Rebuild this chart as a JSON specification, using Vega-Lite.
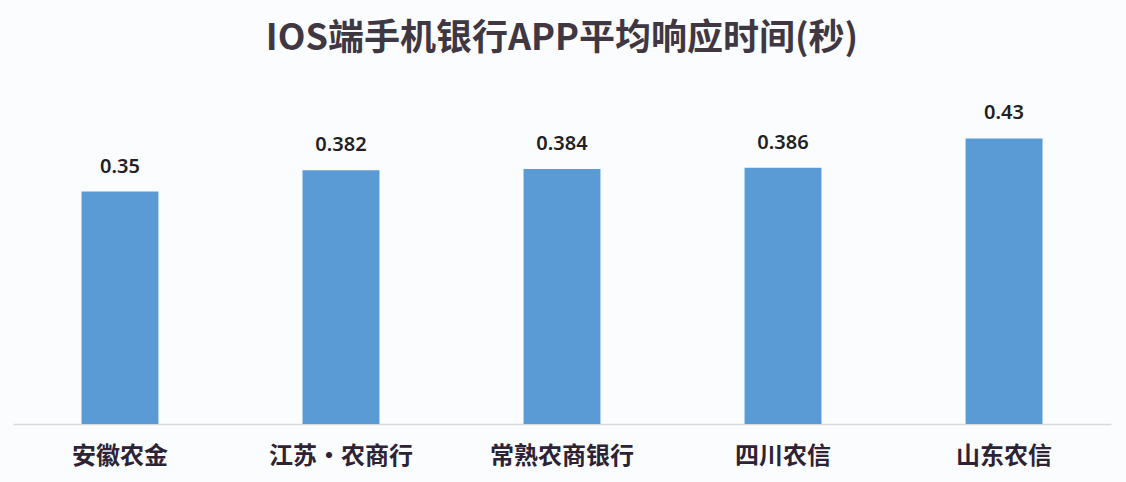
{
  "$schema": "https://vega.github.io/schema/vega-lite/v6.json",
  "width": 1098,
  "height": 332,
  "autosize": {"type": "none"},
  "padding": {"top": 92, "left": 13, "right": 15, "bottom": 58},
  "background": "#fbfcfe",
  "title": {
    "text": "IOS端手机银行APP平均响应时间(秒)",
    "font": "Noto Sans CJK SC",
    "fontSize": 36,
    "fontWeight": "bold",
    "color": "#3f3843",
    "anchor": "middle",
    "offset": 34
  },
  "data": {
    "values": [
      {"bank": "安徽农金", "time": 0.35, "label": "0.35"},
      {"bank": "江苏·农商行", "time": 0.382, "label": "0.382"},
      {"bank": "常熟农商银行", "time": 0.384, "label": "0.384"},
      {"bank": "四川农信", "time": 0.386, "label": "0.386"},
      {"bank": "山东农信", "time": 0.43, "label": "0.43"}
    ]
  },
  "encoding": {
    "x": {
      "field": "bank",
      "type": "nominal",
      "sort": null,
      "title": null,
      "scale": {"paddingInner": 0.652, "paddingOuter": 0.31},
      "axis": {
        "labelAngle": 0,
        "labelFont": "Noto Sans CJK SC",
        "labelFontSize": 24,
        "labelFontWeight": "bold",
        "labelColor": "#2e2235",
        "labelPadding": 20,
        "ticks": false,
        "domainColor": "#d9d9d9",
        "domainWidth": 1.5,
        "grid": false
      }
    },
    "y": {
      "field": "time",
      "type": "quantitative",
      "scale": {"domain": [0, 0.5]},
      "axis": null
    }
  },
  "layer": [
    {"mark": {"type": "bar", "color": "#5b9bd5"}},
    {
      "mark": {
        "type": "text",
        "dy": -25,
        "font": "Noto Sans",
        "fontSize": 20,
        "fontWeight": 600,
        "color": "#1f1f24"
      },
      "encoding": {"text": {"field": "label"}}
    }
  ],
  "config": {"view": {"stroke": null}}
}
